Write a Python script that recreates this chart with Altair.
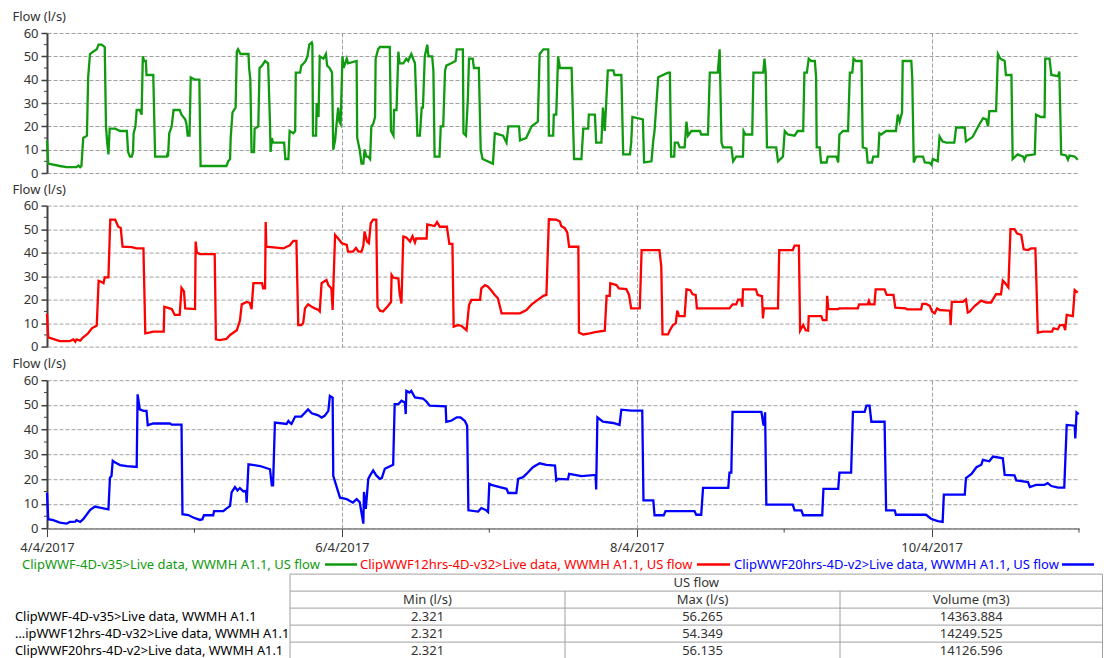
import altair as alt
import pandas as pd

# ---------------- data ----------------
START = "2017-04-04 00:00"

GREEN_HOURS = [0.0, 0.2, 2.1, 3.2, 4.8, 5.1, 5.4, 5.6, 5.9, 6.5, 6.7, 7.0, 7.5, 8.1, 8.4, 8.9, 9.4, 9.6, 9.8, 10.0,
               10.2, 11.1, 11.9, 13.0, 13.2, 13.5, 13.8, 14.0, 14.1, 14.4, 14.6, 15.1, 15.4, 15.6, 15.8, 16.1, 16.2, 17.3, 17.6, 19.5,
               19.6, 19.7, 19.9, 20.3, 20.6, 21.6, 21.9, 22.5, 22.7, 22.9, 23.2, 23.4, 24.1, 24.8, 25.0, 29.2, 29.5, 29.8, 29.9, 30.2,
               30.7, 30.9, 31.1, 31.5, 32.8, 32.9, 33.1, 33.3, 33.7, 33.8, 34.4, 34.6, 35.0, 35.5, 36.0, 36.3, 36.4, 36.6, 36.8, 38.6,
               38.8, 39.3, 39.5, 40.1, 40.4, 40.5, 41.2, 41.4, 41.8, 42.1, 42.4, 42.7, 43.1, 43.2, 43.3, 43.8, 43.9, 44.2, 44.4, 45.0,
               45.4, 45.6, 46.0, 46.4, 46.6, 46.9, 47.1, 47.4, 47.6, 47.8, 48.1, 48.3, 48.8,
               49.0, 50.4, 50.5, 50.9, 51.2, 51.5, 51.7, 52.0, 52.3, 52.6, 52.8, 53.1, 53.4, 53.5, 53.9, 54.2, 55.8, 56.0, 56.4, 56.5,
               56.9, 57.2, 57.4, 58.0, 58.5, 58.8, 59.3, 59.9, 60.3, 60.7, 61.0, 61.2, 61.5, 61.9, 62.1, 62.7, 62.9, 63.1, 63.9, 64.1,
               64.5, 64.8, 65.0, 65.8, 66.5, 66.7, 67.7, 67.8, 68.2, 68.5, 68.7, 69.3, 69.5, 70.3, 70.6, 70.9, 72.6, 72.9, 74.25, 74.8,
               75.1, 76.85, 77.0, 78.0, 78.9, 79.9, 80.2, 80.8, 81.6, 81.7, 82.4, 82.5, 82.9, 83.2, 83.5, 85.4, 85.8, 87.0, 87.3, 88.1,
               88.2, 89.2, 89.4, 90.25, 90.5, 90.8, 91.3, 92.2, 92.4, 93.5, 93.8, 94.9, 95.1, 95.3, 97.0, 97.2, 98.4, 98.7, 98.9, 99.5,
               101.1, 101.4, 101.6, 102.1, 102.2, 102.7, 103.0, 103.8, 104.1, 104.35, 104.9, 106.3, 106.5, 107.6, 107.9, 109.2, 109.5,
               109.8, 110.05, 111.1,
               111.4, 111.7, 112.2, 113.3, 113.4, 113.7, 114.8, 115.0, 116.6, 116.8, 117.0, 117.2, 118.7, 119.0, 119.8, 120.1, 120.6,
               121.7, 122.2, 123.1, 123.3, 123.7, 124.0, 124.4, 125.0, 125.2, 125.3, 125.8, 126.0, 126.9, 127.1, 128.5, 128.8, 129.0,
               129.6, 130.4, 130.7, 131.1, 131.3, 131.7, 132.6, 132.8, 133.4, 133.6, 134.3, 134.5, 135.3, 135.5, 135.8, 136.6, 138.2,
               138.5, 138.8, 139.2, 139.3, 140.7, 140.85, 141.1, 141.5, 142.6, 142.9, 143.7, 144.0, 144.2, 145.0, 145.3, 145.8, 146.4,
               147.7, 148.0, 149.4, 149.6, 150.7, 151.8, 152.4, 152.9, 153.2, 153.4, 154.5, 154.8, 155.2, 155.9, 156.1, 157.0, 157.2,
               158.0, 158.9, 159.1, 159.4, 160.8, 161.0, 161.8, 162.4, 162.5, 163.2, 163.5, 164.6, 164.8, 165.1, 165.9, 166.2, 166.45,
               167.3, 167.8]
GREEN_FLOW = [14, 4, 3, 2.5, 2.5, 3.2, 2.5, 3, 15, 16, 41, 51, 52, 53, 55, 55, 54, 20, 13, 8,
              19, 19, 18, 18, 9, 7, 7, 9, 17, 20, 27, 27, 25, 50, 48, 48, 42, 42, 7, 7,
              8, 7, 17, 20, 27, 27, 25, 23, 21, 16, 16, 41, 40, 40, 3, 3, 5, 6, 15, 26,
              28, 52, 53, 51, 51, 45, 40, 9, 9, 19, 20, 45, 46, 48, 47, 21, 9, 15, 13, 13,
              6, 6, 18, 17, 18, 43, 43, 46, 47, 48, 50, 55, 56, 55, 16, 16, 30, 24, 50, 49,
              51, 46, 45, 43, 10, 14, 20, 28, 22, 21, 50, 45, 49,
              47, 48, 15, 10, 4, 4, 10, 7, 7, 6, 20, 21, 24, 49, 53, 54, 54, 18, 16, 27,
              27, 52, 47, 47, 49, 48, 51, 47, 16, 16, 28, 28, 50, 55, 50, 50, 44, 7, 7, 20,
              20, 44, 46, 47, 48, 53, 53, 17, 16, 31, 49, 49, 45, 45, 10, 6, 4, 17, 16, 13,
              20, 20, 14, 15, 20, 22, 51, 53, 53, 16, 16, 25, 25, 50, 45, 45, 6, 6, 19, 19,
              25, 25, 13, 13, 28, 18, 44, 44, 42, 42, 8, 8, 13, 24, 23, 4.5, 5, 14, 18, 41,
              43, 43, 7, 7, 13, 13, 11, 11, 22, 16, 18, 18, 16.5, 16.5, 43, 43, 53,
              13, 11, 11,
              11, 5, 7, 7, 18, 16.5, 16.5, 43, 43, 49, 43, 11, 11, 5, 7, 18, 16.5,
              16, 18, 18, 43, 43, 49, 48, 48, 41, 11, 11, 4.5, 4.5, 7, 7, 4.5, 16.5,
              18, 18, 43, 43, 49, 48, 48, 11, 10.5, 4.5, 4.5, 7, 7, 17, 16.5, 18, 18,
              25, 22, 26, 48, 48, 41, 4.5, 7, 7, 4.5, 4.3, 3.5, 6, 5, 15.7, 13.5, 13,
              13, 19.5, 19.5, 13.5, 15.5, 21, 23.5, 23, 20, 26.5, 26.5, 51, 49, 48, 42, 42, 6,
              8, 7, 5.5, 7.5, 8, 25, 24, 24, 49, 49, 42, 41.5, 43.5, 8, 7.5, 5.7, 7.5,
              7, 5.7]

RED_HOURS = [0.0, 0.2, 1.6, 2.1, 3.7, 4.3, 4.6, 4.8, 5.4, 5.9, 6.7, 7.3, 8.1, 8.4, 8.9, 9.2, 9.4, 10.0, 10.3, 11.1,
             11.6, 12.0, 12.3, 13.8, 14.6, 15.7, 16.0, 16.8, 17.3, 19.0, 19.1, 19.7, 20.3, 20.8, 21.6, 21.9, 22.3, 22.5, 24.1, 24.2,
             24.4, 24.9, 27.3, 27.5, 28.1, 29.2, 29.8, 30.9, 31.4, 31.7, 32.5, 33.0, 33.3, 33.6, 35.0, 35.2, 35.5, 35.6, 35.7, 38.5,
             39.0, 39.5, 40.1, 40.6, 40.9, 41.4, 41.7, 42.0, 42.5, 43.1, 43.6, 44.2, 44.4, 44.7, 45.5, 45.8, 46.3, 46.5, 46.6, 46.9,
             47.4, 48.0, 48.8, 49.0, 49.8, 50.3, 50.7, 51.2,
             51.5, 51.7, 52.1, 52.4, 52.7, 53.1, 53.6, 53.8, 54.2, 54.7, 55.5, 56.0, 56.1, 56.35, 57.2, 57.4, 57.7, 58.0, 58.5, 59.1,
             59.5, 59.9, 60.1, 61.8, 61.9, 63.1, 63.5, 63.95, 65.1, 65.5, 66.0, 66.2, 66.9, 67.5, 68.3, 68.7, 69.1, 70.5, 70.7, 71.3,
             71.8, 72.4, 72.9, 73.4, 74.0, 77.0, 78.05, 78.9, 79.9, 80.8, 81.3, 81.7, 82.9, 83.5, 83.7, 84.3, 84.7, 85.0, 86.5, 86.6,
             87.3, 88.35, 89.2, 90.8, 91.1, 91.6, 91.7, 92.7, 93.1, 94.3, 94.75, 95.1, 96.5, 96.8, 99.7, 100.0, 100.2, 101.1, 101.4,
             101.9, 102.35, 102.6, 102.9, 103.8, 104.1, 104.7, 105.1, 105.6, 105.8,
             111.1, 111.6, 112.2, 112.5, 113.0, 113.2, 113.3, 115.4, 115.7, 116.4, 116.55, 116.7, 119.0, 119.2, 121.4, 121.7, 122.4,
             122.6, 123.1, 123.5, 123.9, 124.0, 126.05, 126.3, 126.9, 127.0, 127.2, 128.8, 129.0, 132.0, 132.2, 133.6, 133.8, 134.0,
             134.7, 134.9, 136.35, 136.7, 137.8, 138.1, 139.8, 140.0, 142.3, 142.5, 143.1, 143.7, 144.1, 144.5, 144.9, 145.3, 147.0,
             147.1, 147.3, 149.1, 149.6, 149.9, 150.2, 151.0, 152.1, 152.9, 153.7, 154.0, 154.5, 155.3, 155.6, 156.0, 156.5, 156.85,
             157.5, 157.9, 158.6, 159.0, 159.7, 160.2, 160.9, 161.3, 162.1, 163.6, 163.85, 164.55, 164.9, 165.5, 165.75, 166.0,
             167.0, 167.3, 167.8]
RED_FLOW = [14, 4, 2.8, 2.4, 2.4, 3.1, 2.1, 3.1, 2.6, 4, 5.7, 7.8, 9, 28, 27.5, 27, 29.5, 29.5, 54, 54,
            51, 50.5, 42.5, 42.3, 41.8, 41.8, 5.7, 6.1, 6.4, 6.4, 17, 16.5, 16, 13.5, 13.5, 25, 23.5, 16.3, 16, 44.7,
            40, 39.4, 39.4, 3.1, 2.8, 3.3, 5, 7, 11, 18, 19, 18.6, 16, 27, 27, 24.8, 24.8, 53, 42.5, 41.8,
            42.5, 43, 45, 45, 9.2, 9.2, 10, 16.3, 18, 17, 16.3, 15.6, 15, 27, 28.4, 26.2, 24.8, 15.6, 24, 47.5,
            46, 44, 43.3, 40.4, 40.4, 42, 40.4, 40.4,
            43, 49, 44.7, 44, 52.5, 54, 54, 17, 15.3, 15, 17.3, 19, 30.5, 29.4, 29, 22.7, 18.4, 46.8, 46.4, 44.7,
            47, 44.3, 46, 46, 52, 51.3, 53, 51, 51, 43.7, 43.7, 8.5, 9.2, 8.8, 7, 17.7, 19.9, 19.9, 24.8, 26.2,
            25.5, 23.7, 22, 20.6, 14.2, 14.2, 15.6, 18, 19.9, 21.6, 22, 54.2, 54, 53.2, 51.3, 50.4, 48.5, 42.5, 42.5, 6,
            5.2, 5.7, 6.2, 6.8, 21.6, 21.6, 27, 26.2, 24.8, 24.5, 22, 16.3, 16.3, 41.1, 41.1, 34, 5.2, 5.2, 7,
            9.2, 9.9, 15.3, 13, 13, 24.4, 24.1, 22.3, 22, 16.3,
            16.3, 18, 18, 20, 20, 17, 24.4, 24.4, 22, 21.5, 12, 16.3, 16.3, 41.1, 41.1, 43, 43,
            6.8, 9.2, 7, 6.8, 13, 13, 11.3, 11.3, 21.6, 16, 16, 16.3, 16.3, 18, 18, 19.5, 18,
            18, 24.4, 24.4, 22, 22, 16.6, 16.3, 15.9, 15.9, 18.2, 18.2, 17.4, 14.9, 14.2, 16.3, 15.6, 15.3,
            9.2, 19.1, 19.1, 20.1, 14.5, 14.9, 17.3, 19.6, 18.8, 18.8, 20.1, 22.3, 22.3, 28.1, 27, 25.2, 50,
            50, 48.2, 47.5, 41.4, 41.1, 41.8, 41.8, 6, 6.4, 6.4, 7.8, 7.4, 9.2, 9.2, 7, 13.5,
            13, 24.1, 23]

BLUE_HOURS = [0.0, 0.2, 1.0, 2.1, 3.2, 3.7, 4.6, 4.8, 5.4, 5.9, 6.5, 7.0, 7.8, 8.6, 9.2, 10.0, 10.25, 10.5, 10.7, 11.1,
              11.9, 13.0, 14.6, 14.75, 15.1, 15.7, 16.2, 16.4, 17.3, 20.0, 20.3, 21.9, 22.05, 23.0, 23.8, 24.9, 25.3, 25.55, 27.05, 27.2,
              28.7, 29.2, 29.8, 30.05, 30.6, 31.0, 31.4, 32.0, 32.4, 32.5, 32.8, 34.7, 36.3, 36.6, 36.8, 37.1, 39.0, 39.3, 39.5, 39.8,
              40.4, 41.4, 42.5, 43.1, 44.15, 44.7, 45.2, 45.8, 46.05, 46.5, 46.6, 47.1, 47.7, 48.8, 49.8, 50.4,
              50.9, 51.5, 51.6, 51.9, 52.3, 52.6, 53.1, 53.6, 54.2, 54.5, 55.0, 55.5, 56.35, 56.6, 57.2, 57.7, 58.25, 58.4, 58.5, 59.0,
              59.3, 59.9, 61.2, 61.8, 62.3, 64.9, 65.0, 65.8, 66.7, 67.3, 68.0, 68.4, 68.6, 70.2, 70.7, 71.5, 71.8, 72.0, 72.35, 73.7,
              74.8, 75.1, 76.4, 76.7, 77.5, 78.05, 79.1, 80.2, 81.3, 82.7, 82.9, 83.2, 84.8, 85.0, 87.0, 89.3, 89.4, 89.6, 90.5, 92.15,
              93.2, 93.5, 95.1, 96.9, 97.1, 98.7, 98.9, 100.4, 100.7, 105.4, 105.7, 106.5, 106.8, 110.9,
              111.1, 111.4, 111.6, 116.3, 116.6, 116.7, 116.9, 117.1, 121.4, 121.7, 122.8, 123.1, 126.2, 126.4, 128.8, 129.0, 130.9,
              131.2, 133.1, 133.4, 133.9, 134.2, 136.35, 136.6, 138.0, 138.2, 143.1, 143.9, 145.0, 145.8, 146.0, 149.4, 149.6, 150.5,
              151.3, 152.1, 152.35, 153.4, 154.0, 155.6, 155.9, 157.5, 157.8, 159.7, 160.0, 161.0, 162.4, 162.9, 163.5, 164.6, 165.6,
              166.0, 167.3, 167.4, 167.6, 167.97]
BLUE_FLOW = [14.5, 3.8, 3.4, 2.4, 2, 2.7, 2.8, 3.4, 2.7, 3.8, 5.8, 7.5, 8.9, 8.5, 8.2, 7.8, 20.6, 21.3, 27.4, 26.7,
             25.7, 25.3, 24.9, 54.3, 48.2, 47.6, 47.6, 41.8, 42.5, 42.5, 42, 42, 5.8, 5.5, 4.5, 3.5, 3.8, 5.4, 5.4, 7.1,
             7.1, 8.1, 9.2, 14.6, 16.8, 15.4, 16.4, 15, 15.2, 10.5, 26, 25.3, 24, 17.5, 17.5, 42.9, 42.3, 43.5, 42.9, 42.3,
             45.3, 45.3, 48.2, 46.6, 45.8, 44.9, 45.6, 47.6, 53.6, 52.9, 21.3, 17.3, 12.5, 11.9, 10.5, 11.9,
             10.7, 2, 14.8, 8, 20.1, 21.5, 23.5, 21.5, 20.1, 20.4, 24.2, 24.8, 25.8, 50.3, 50.3, 51.7, 51, 46.3, 55.7, 55,
             55.7, 53, 52.6, 51.3, 49.7, 49.4, 43.2, 43.6, 45, 45, 43.6, 41.6, 7.4, 6.9, 8.3, 7.4, 6.7, 18.1, 17.7, 16.8,
             16.1, 14.4, 14.4, 20.1, 20.8, 22.1, 24.8, 26.4, 25.8, 25.5, 19.5, 20.1, 19.9, 22.1, 21.2, 21.7, 15.8, 45, 43.2, 42.7,
             41.9, 48.1, 47.7, 47.7, 11.4, 11.4, 5.4, 5.4, 7.1, 7.1, 5.6, 5.6, 16.5, 16.5,
             22.6, 22.6, 47.2, 47.2, 42.3, 41.6, 47, 9.7, 9.7, 7.4, 7.4, 5.4, 5.4, 16.1, 16.1, 22.6, 22.6,
             47.2, 47.2, 49.7, 49.7, 43.2, 43.2, 7.4, 7.4, 5.6, 5.6, 4, 3, 2.7, 13.7, 13.7, 20.4, 22.1,
             24.8, 25.8, 27.8, 27.2, 29.1, 28.4, 21.7, 21.5, 19.5, 18.8, 16.8, 17.7, 17.7, 18.4, 17.2, 16.6, 16.6,
             41.9, 41.6, 36.5, 47, 46.3]

SERIES_NAMES = ["ClipWWF-4D-v35>Live data, WWMH A1.1, US flow",
                "ClipWWF12hrs-4D-v32>Live data, WWMH A1.1, US flow",
                "ClipWWF20hrs-4D-v2>Live data, WWMH A1.1, US flow"]
SERIES_COLORS = ["#109a10", "#ff0000", "#0000ff"]

FLOW_TICKS = [0, 10, 20, 30, 40, 50, 60]
FLOW_MINOR = [5, 15, 25, 35, 45, 55]
MAJOR_DAYS = [4, 6, 8, 10]
MINOR_DAYS = [5, 7, 9, 11]

TABLE_GROUP = "US flow"
TABLE_COLUMNS = ["Min (l/s)", "Max (l/s)", "Volume (m3)"]
TABLE_ROWS = ["ClipWWF-4D-v35>Live data, WWMH A1.1",
              "...ipWWF12hrs-4D-v32>Live data, WWMH A1.1",
              "ClipWWF20hrs-4D-v2>Live data, WWMH A1.1"]
TABLE_MIN = ["2.321", "2.321", "2.321"]
TABLE_MAX = ["56.265", "54.349", "56.135"]
TABLE_VOLUME = ["14363.884", "14249.525", "14126.596"]

# ---------------- layout / style ----------------
FONT = "Noto Sans"
FS = 13
TXT = "#333333"
PANEL_W = 1032
PANEL_H = [140, 141.1, 148.4]
SPACING = 32.6
GRID = dict(grid=True, gridColor="#a0a0a0", gridDash=[4, 2], gridWidth=1)

LEG_Y = 2.7
LEG_TEXT_X = [-25, 313, 687]
LEG_LINE_X = [(278, 310), (650, 683), (1015, 1047)]

TAB_EDGES = [243, 518, 793, 1055.5]
TAB_Y0, ROW_H = 12.3, 17.0
ROWLABEL_X = -32
BOTTOM_H = 94

X_DOMAIN = [alt.DateTime(year=2017, month=4, date=4), alt.DateTime(year=2017, month=4, date=11)]
MAJOR_DT = [alt.DateTime(year=2017, month=4, date=d) for d in MAJOR_DAYS]


def series_frame(hours, flow):
    assert len(hours) == len(flow), (len(hours), len(flow))
    return pd.DataFrame({"t": pd.Timestamp(START) + pd.to_timedelta(hours, unit="h"), "flow": flow})


x_scale = alt.Scale(domain=X_DOMAIN, nice=False)
y_scale = alt.Scale(domain=[0, 60], nice=False)


def x_axis(show):
    if show:
        return alt.Axis(values=MAJOR_DT, format="%-d/%-m/%Y", title=None, labelFont=FONT, labelFontSize=FS,
                        labelColor=TXT, labelPadding=5, labelFlush=False, labelOverlap=False,
                        tickSize=8, tickColor="#404040", tickWidth=1, domainColor="#808080", domainWidth=1.5, **GRID)
    return alt.Axis(values=MAJOR_DT, labels=False, ticks=False, domain=False, title=None, **GRID)


y_axis = alt.Axis(values=FLOW_TICKS, title="Flow (l/s)", titleAngle=0, titleAlign="left",
                  titleBaseline="alphabetic", titleX=-35, titleY=-12.5, titleFont=FONT, titleFontSize=FS,
                  titleFontWeight="normal", titleColor=TXT, labelFont=FONT, labelFontSize=FS, labelColor=TXT,
                  labelPadding=3, tickSize=6, tickColor="#404040", tickWidth=1.5, domainColor="#404040",
                  domainWidth=2, **GRID)

minor_y_df = pd.DataFrame({"m": FLOW_MINOR})
minor_x_df = pd.DataFrame({"t": [pd.Timestamp(2017, 4, d) for d in MINOR_DAYS]})


def panel(df, color, height, show_x):
    xa = x_axis(show_x)
    line = alt.Chart(df).mark_line(color=color, strokeWidth=2.3).encode(
        x=alt.X("t:T", scale=x_scale, axis=xa),
        y=alt.Y("flow:Q", scale=y_scale, axis=y_axis),
    )
    ymin = alt.Chart(minor_y_df).mark_rule(color="#404040", strokeWidth=1).encode(
        y=alt.Y("m:Q", scale=y_scale, axis=y_axis), x=alt.value(-3), x2=alt.value(0))
    layers = [line, ymin]
    if show_x:
        xmin = alt.Chart(minor_x_df).mark_rule(color="#404040", strokeWidth=1).encode(
            x=alt.X("t:T", scale=x_scale, axis=xa), y=alt.value(height), y2=alt.value(height + 4))
        layers.append(xmin)
    return alt.layer(*layers).properties(width=PANEL_W, height=height)


p1 = panel(series_frame(GREEN_HOURS, GREEN_FLOW), SERIES_COLORS[0], PANEL_H[0], False)
p2 = panel(series_frame(RED_HOURS, RED_FLOW), SERIES_COLORS[1], PANEL_H[1], False)
p3 = panel(series_frame(BLUE_HOURS, BLUE_FLOW), SERIES_COLORS[2], PANEL_H[2], True)

# ---------------- legend ----------------
leg_df = pd.DataFrame({"name": SERIES_NAMES, "color": SERIES_COLORS, "tx": LEG_TEXT_X,
                       "lx": [a for a, b in LEG_LINE_X], "lx2": [b for a, b in LEG_LINE_X]})
leg_text = alt.Chart(leg_df).mark_text(align="left", baseline="middle", font=FONT, fontSize=FS).encode(
    x=alt.X("tx:Q", scale=None), y=alt.value(LEG_Y), text="name:N", color=alt.Color("color:N", scale=None))
leg_line = alt.Chart(leg_df).mark_rule(strokeWidth=2.5).encode(
    x=alt.X("lx:Q", scale=None), x2="lx2:Q", y=alt.value(LEG_Y), color=alt.Color("color:N", scale=None))

# ---------------- table ----------------
TAB_X0, TAB_X1 = TAB_EDGES[0], TAB_EDGES[-1]
col_centers = [(TAB_EDGES[i] + TAB_EDGES[i + 1]) / 2 for i in range(len(TABLE_COLUMNS))]
n_lines = 2 + len(TABLE_ROWS)
row_edges = [TAB_Y0 + i * ROW_H for i in range(n_lines + 1)]

lines = []
for y in row_edges:
    lines.append({"x": TAB_X0, "x2": TAB_X1, "y": y, "y2": y})
for i, x in enumerate(TAB_EDGES):
    top = row_edges[0] if i in (0, len(TAB_EDGES) - 1) else row_edges[1]
    lines.append({"x": x, "x2": x, "y": top, "y2": row_edges[-1]})
lines_df = pd.DataFrame(lines)
tab_lines = alt.Chart(lines_df).mark_rule(color="#a0a0a0", strokeWidth=1).encode(
    x=alt.X("x:Q", scale=None), x2="x2:Q", y=alt.Y("y:Q", scale=None), y2="y2:Q")

cells = [{"x": (TAB_X0 + TAB_X1) / 2, "y": row_edges[0] + ROW_H / 2, "text": TABLE_GROUP}]
for i, c in enumerate(TABLE_COLUMNS):
    cells.append({"x": col_centers[i], "y": row_edges[1] + ROW_H / 2, "text": c})
for r in range(len(TABLE_ROWS)):
    for i, vals in enumerate([TABLE_MIN, TABLE_MAX, TABLE_VOLUME]):
        cells.append({"x": col_centers[i], "y": row_edges[2 + r] + ROW_H / 2, "text": vals[r]})
cells_df = pd.DataFrame(cells)
tab_text = alt.Chart(cells_df).mark_text(align="center", baseline="middle", font=FONT, fontSize=FS,
                                         color=TXT).encode(
    x=alt.X("x:Q", scale=None), y=alt.Y("y:Q", scale=None), text="text:N")

rl_df = pd.DataFrame({"label": TABLE_ROWS,
                      "y": [row_edges[2 + r] + ROW_H / 2 for r in range(len(TABLE_ROWS))]})
tab_rows = alt.Chart(rl_df).mark_text(align="left", baseline="middle", font=FONT, fontSize=12.8,
                                      color="#000000").encode(
    x=alt.value(ROWLABEL_X), y=alt.Y("y:Q", scale=None), text="label:N")

bottom = alt.layer(tab_lines, tab_text, tab_rows, leg_line, leg_text).properties(width=PANEL_W, height=BOTTOM_H)

chart = alt.vconcat(p1, p2, p3, bottom, spacing=SPACING, bounds="flush").properties(
    padding={"left": 4, "top": 2, "right": 0, "bottom": 0}
).configure_view(stroke=None)

chart.save("out.html", embed_options={"renderer": "svg", "actions": False})
